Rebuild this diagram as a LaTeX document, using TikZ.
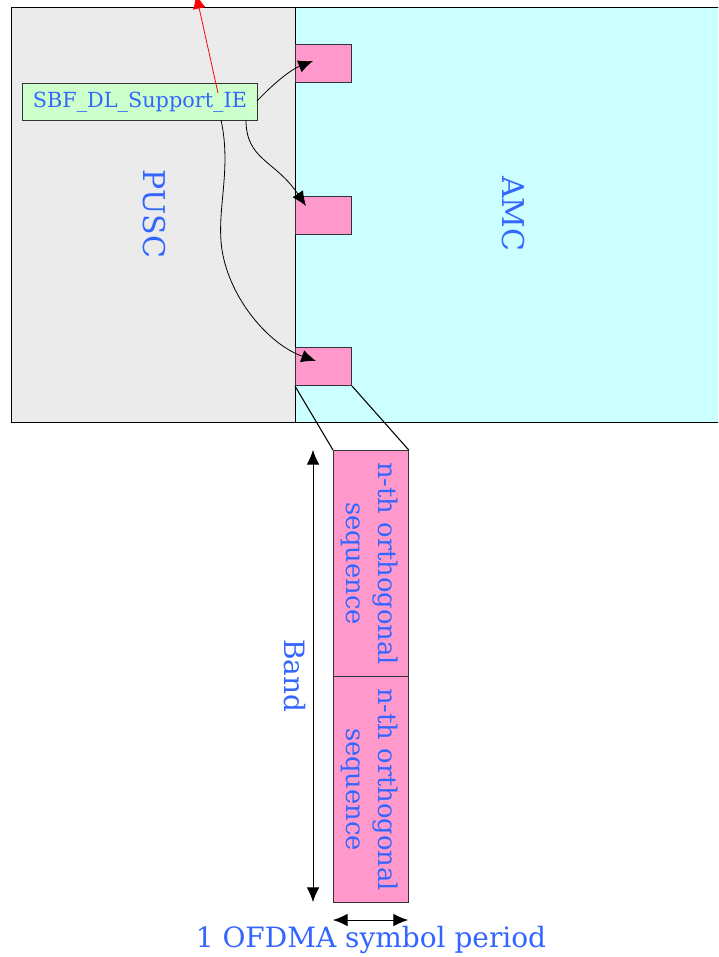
\documentclass[tikz,border=0pt]{standalone}
\usepackage{fontspec}
\setmainfont{DejaVu Serif}
\usetikzlibrary{arrows.meta}
\definecolor{txtblue}{RGB}{51,102,255}
\definecolor{pinkf}{RGB}{255,153,204}
\definecolor{cyanf}{RGB}{204,255,255}
\definecolor{grayf}{RGB}{235,235,235}
\definecolor{greenf}{RGB}{204,255,204}
\tikzset{
  pinkbox/.style={draw=black!80, fill=pinkf, line width=0.8pt},
  lbl/.style={text=txtblue, inner sep=0pt},
  tip/.style={-{Latex[length=11pt,width=9.5pt]}},
  dtip/.style={{Latex[length=11pt,width=9.5pt]}-{Latex[length=11pt,width=9.5pt]}},
}
\begin{document}
\begin{tikzpicture}[x=0.75pt,y=-0.75pt]
\useasboundingbox (0,0) rectangle (718,957);
\clip (0,0) rectangle (718,957);
\fill[white] (0,0) rectangle (718,957);
% big areas
\fill[grayf] (11,7) rectangle (295,422);
\fill[cyanf] (295,7) rectangle (720,422);
\draw[line width=0.75pt] (720,7) -- (11,7) -- (11,422) -- (720,422);
\draw[line width=0.75pt] (295,7) -- (295,422);
% small pink boxes
\node[pinkbox, minimum width=42pt, minimum height=28.5pt, inner sep=0pt, anchor=north west] (p1) at (295,44) {};
\node[pinkbox, minimum width=42pt, minimum height=28.5pt, inner sep=0pt, anchor=north west] (p2) at (295,196) {};
\node[pinkbox, minimum width=42pt, minimum height=28.5pt, inner sep=0pt, anchor=north west] (p3) at (295,347) {};
% green box
\node[draw=black!80, fill=greenf, line width=0.8pt, minimum width=176pt, minimum height=28pt, inner sep=0pt, anchor=north west, text=txtblue, font=\fontsize{15.6}{18}\selectfont] (sbf) at (22,83) {SBF\_DL\_Support\_IE};
% labels
\node[lbl, rotate=-90, font=\fontsize{22.5}{26}\selectfont] (pusc) at (154,214) {PUSC};
\node[lbl, rotate=-90, font=\fontsize{22.5}{26}\selectfont] (amc) at (513,214) {AMC};
% red arrow
\coordinate (rtop) at (196,-6);
\draw[red, line width=0.6pt, tip] (218,93) -- (rtop);
% curves
\draw[line width=0.6pt, tip] (257,101) .. controls (272,85) and (290,70) .. (313,61);
\draw[line width=0.6pt, tip] (246,120) .. controls (246,160) and (275,160) .. (306,206);
\draw[line width=0.6pt, tip] (221,120) .. controls (232,170) and (216,210) .. (222,250) .. controls (230,300) and (270,345) .. (316,361);
% tall boxes
\node[pinkbox, minimum width=56pt, minimum height=169.5pt, inner sep=0pt, anchor=north west] (t1) at (333,450) {};
\node[pinkbox, minimum width=56pt, minimum height=169.5pt, inner sep=0pt, anchor=north west] (t2) at (333,676) {};
\node[lbl, rotate=-90, align=center, font=\fontsize{19.3}{24}\selectfont] at ([xshift=-1.2pt]t1.center) {n-th orthogonal\\sequence};
\node[lbl, rotate=-90, align=center, font=\fontsize{19.3}{24}\selectfont] at ([xshift=-1.2pt]t2.center) {n-th orthogonal\\sequence};
% trapezoid
\draw[line width=0.8pt] (p3.south west) -- (t1.north west);
\draw[line width=0.8pt] (p3.south east) -- (t1.north east);
% band arrow
\coordinate (bt) at (313,450);
\coordinate (bb) at (313,902);
\draw[line width=0.7pt, dtip] (bt) -- (bb);
\node[lbl, rotate=-90, font=\fontsize{21}{25}\selectfont] (band) at (295,676) {Band};
% period arrow
\coordinate (pl) at (333,920);
\coordinate (pr) at (408,920);
\draw[line width=0.7pt, dtip] (pl) -- (pr);
\node[lbl, font=\fontsize{21}{24}\selectfont, anchor=base] (per) at (371,947) {1 OFDMA symbol period};
\end{tikzpicture}
\end{document}
